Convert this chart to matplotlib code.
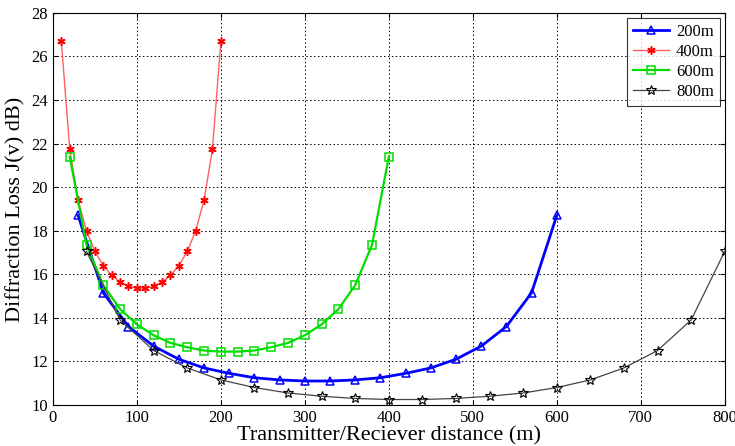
import matplotlib
matplotlib.use('Agg')
import matplotlib.pyplot as plt

plt.rcParams['font.family'] = ['Liberation Serif', 'DejaVu Serif']

# 200m series
x200 = [30, 60, 90, 120, 150, 180, 210, 240, 270, 300, 330, 360, 390, 420, 450, 480, 510, 540, 570, 600]
y200 = [18.7, 15.15, 13.6, 12.7, 12.1, 11.7, 11.45, 11.25, 11.15, 11.1, 11.1, 11.15, 11.25, 11.45, 11.7, 12.1, 12.7, 13.6, 15.15, 18.7]

# 400m series
x400 = [10, 20, 30, 40, 50, 60, 70, 80, 90, 100, 110, 120, 130, 140, 150, 160, 170, 180, 190, 200]
y400 = [26.7, 21.75, 19.4, 18.0, 17.05, 16.4, 15.95, 15.65, 15.45, 15.35, 15.35, 15.45, 15.65, 15.95, 16.4, 17.05, 18.0, 19.4, 21.75, 26.7]

# 600m series
x600 = [20, 40, 60, 80, 100, 120, 140, 160, 180, 200, 220, 240, 260, 280, 300, 320, 340, 360, 380, 400]
y600 = [21.4, 17.35, 15.5, 14.4, 13.7, 13.2, 12.85, 12.65, 12.5, 12.45, 12.45, 12.5, 12.65, 12.85, 13.2, 13.7, 14.4, 15.5, 17.35, 21.4]

# 800m series
x800 = [40, 80, 120, 160, 200, 240, 280, 320, 360, 400, 440, 480, 520, 560, 600, 640, 680, 720, 760, 800]
y800 = [17.05, 13.9, 12.5, 11.7, 11.15, 10.8, 10.55, 10.4, 10.3, 10.25, 10.25, 10.3, 10.4, 10.55, 10.8, 11.15, 11.7, 12.5, 13.9, 17.05]

fig = plt.figure(figsize=(7.35, 4.46), dpi=100)
ax = fig.add_axes([0.072, 0.092, 0.914, 0.879])

ax.plot(x200, y200, color='#0000ff', lw=2, marker='^', ms=6, mfc='none', mew=1.1, label='200m')
ax.plot(x400, y400, color='#ff6060', lw=1, marker=(6, 2, 0), ms=6, mec='#ff0000', mew=1.1, label='400m')
ax.plot(x600, y600, color='#00dd00', lw=1.6, marker='s', ms=6, mfc='none', mew=1.1, label='600m')
ax.plot(x800, y800, color='#444444', lw=0.9, marker='*', ms=7, mfc='none', mec='black', mew=0.8, label='800m')

ax.set_xlim(0, 800)
ax.set_ylim(10, 28)
ax.set_xticks(range(0, 801, 100))
ax.set_yticks(range(10, 29, 2))
ax.grid(True, color='black', linestyle=(0, (1.5, 2.5)), linewidth=0.7)
ax.tick_params(direction='in', labelsize=12, top=True, right=True)
for s in ax.spines.values():
    s.set_linewidth(0.8)

ax.set_xlabel('Transmitter/Reciever distance (m)', fontsize=16, labelpad=0)
ax.set_ylabel('Diffraction Loss J(v) dB)', fontsize=16, labelpad=4)

leg = ax.legend(loc='upper right', fontsize=12, fancybox=False, edgecolor='black',
                handlelength=2.2, handletextpad=0.4, borderaxespad=0.3,
                labelspacing=0.25, borderpad=0.35)
leg.get_frame().set_linewidth(0.8)

plt.savefig('out.png')
